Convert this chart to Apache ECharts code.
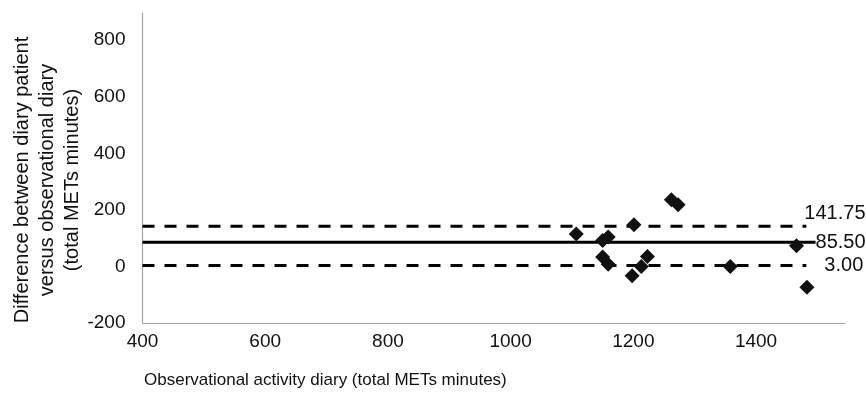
<!DOCTYPE html>
<html>
<head>
<meta charset="utf-8">
<script src="https://cdn.jsdelivr.net/npm/echarts@6/dist/echarts.min.js"></script>
<style>
html,body{margin:0;padding:0;background:#fff;}
#chart{width:866px;height:398px;}
</style>
</head>
<body>
<div id="chart"></div>
<script>
// Observational activity diary (x) and difference (y)
var obsX = [1107, 1150, 1159, 1201, 1150, 1159, 1223, 1213, 1198, 1262, 1273, 1358, 1466, 1483];
var diffY = [115, 92, 104, 147, 33, 8, 35, 0, -33, 236, 218, 0, 73, -74];

var upperLimit = 141.75;
var meanDiff = 85.50;
var lowerLimit = 3.00;
var lineStartX = 400;
var lineEndX = 1482;

var xTicks = [400, 600, 800, 1000, 1200, 1400];
var yTicks = [-200, 0, 200, 400, 600, 800];

var FONT = 'Liberation Sans, Arial, sans-serif';
var TXT = '#111';
var chart = echarts.init(document.getElementById('chart'));

function hLine(v, dashed, labelOffset, extraEnd) {
  return {
    type: 'line',
    data: [[lineStartX, v], [lineEndX + (extraEnd || 0), v]],
    symbol: 'none',
    silent: true,
    lineStyle: {color: '#000', width: 3, type: dashed ? [12, 10] : 'solid'},
    z: 1,
    endLabel: {
      show: true,
      formatter: v.toFixed(2),
      fontFamily: FONT,
      fontSize: 20,
      color: TXT,
      distance: 0,
      offset: labelOffset
    }
  };
}

chart.setOption({
  animation: false,
  grid: {left: 142.5, right: 21, top: 13, bottom: 75},
  xAxis: {
    type: 'value',
    min: 400, max: 1545, interval: 200,
    axisLine: {onZero: false, lineStyle: {color: '#a6a6a6', width: 1.2}},
    axisTick: {show: false},
    splitLine: {show: false},
    axisLabel: {
      fontFamily: FONT, fontSize: 19, color: TXT, margin: 9,
      showMaxLabel: false,
      formatter: function (v) { return xTicks.indexOf(v) >= 0 ? String(v) : ''; }
    }
  },
  yAxis: {
    type: 'value',
    min: -200, max: 896, interval: 200,
    axisLine: {show: true, onZero: false, lineStyle: {color: '#a6a6a6', width: 1.2}},
    axisTick: {show: false},
    splitLine: {show: false},
    axisLabel: {
      fontFamily: FONT, fontSize: 19, color: TXT, margin: 17,
      showMaxLabel: false,
      formatter: function (v) { return yTicks.indexOf(v) >= 0 ? String(v) : ''; }
    }
  },
  title: {
    text: 'Observational activity diary (total METs minutes)',
    left: 144, top: 372, padding: 0,
    textStyle: {fontFamily: FONT, fontSize: 17, fontWeight: 'normal', color: TXT}
  },
  graphic: [{
    type: 'text',
    x: 47, y: 180,
    rotation: Math.PI / 2,
    style: {
      text: 'Difference between diary patient\nversus observational diary\n(total METs minutes)',
      font: '20px ' + FONT,
      fill: TXT,
      align: 'center',
      verticalAlign: 'middle',
      lineHeight: 25
    }
  }],
  series: [
    hLine(upperLimit, true, [-2, -13]),
    hLine(meanDiff, false, [0, 0], 15),
    hLine(lowerLimit, true, [18, 0]),
    {
      type: 'scatter',
      data: obsX.map(function (x, i) { return [x, diffY[i]]; }),
      symbol: 'diamond',
      symbolSize: [15, 15],
      itemStyle: {color: '#111', opacity: 1},
      z: 3
    }
  ]
});
</script>
</body>
</html>
